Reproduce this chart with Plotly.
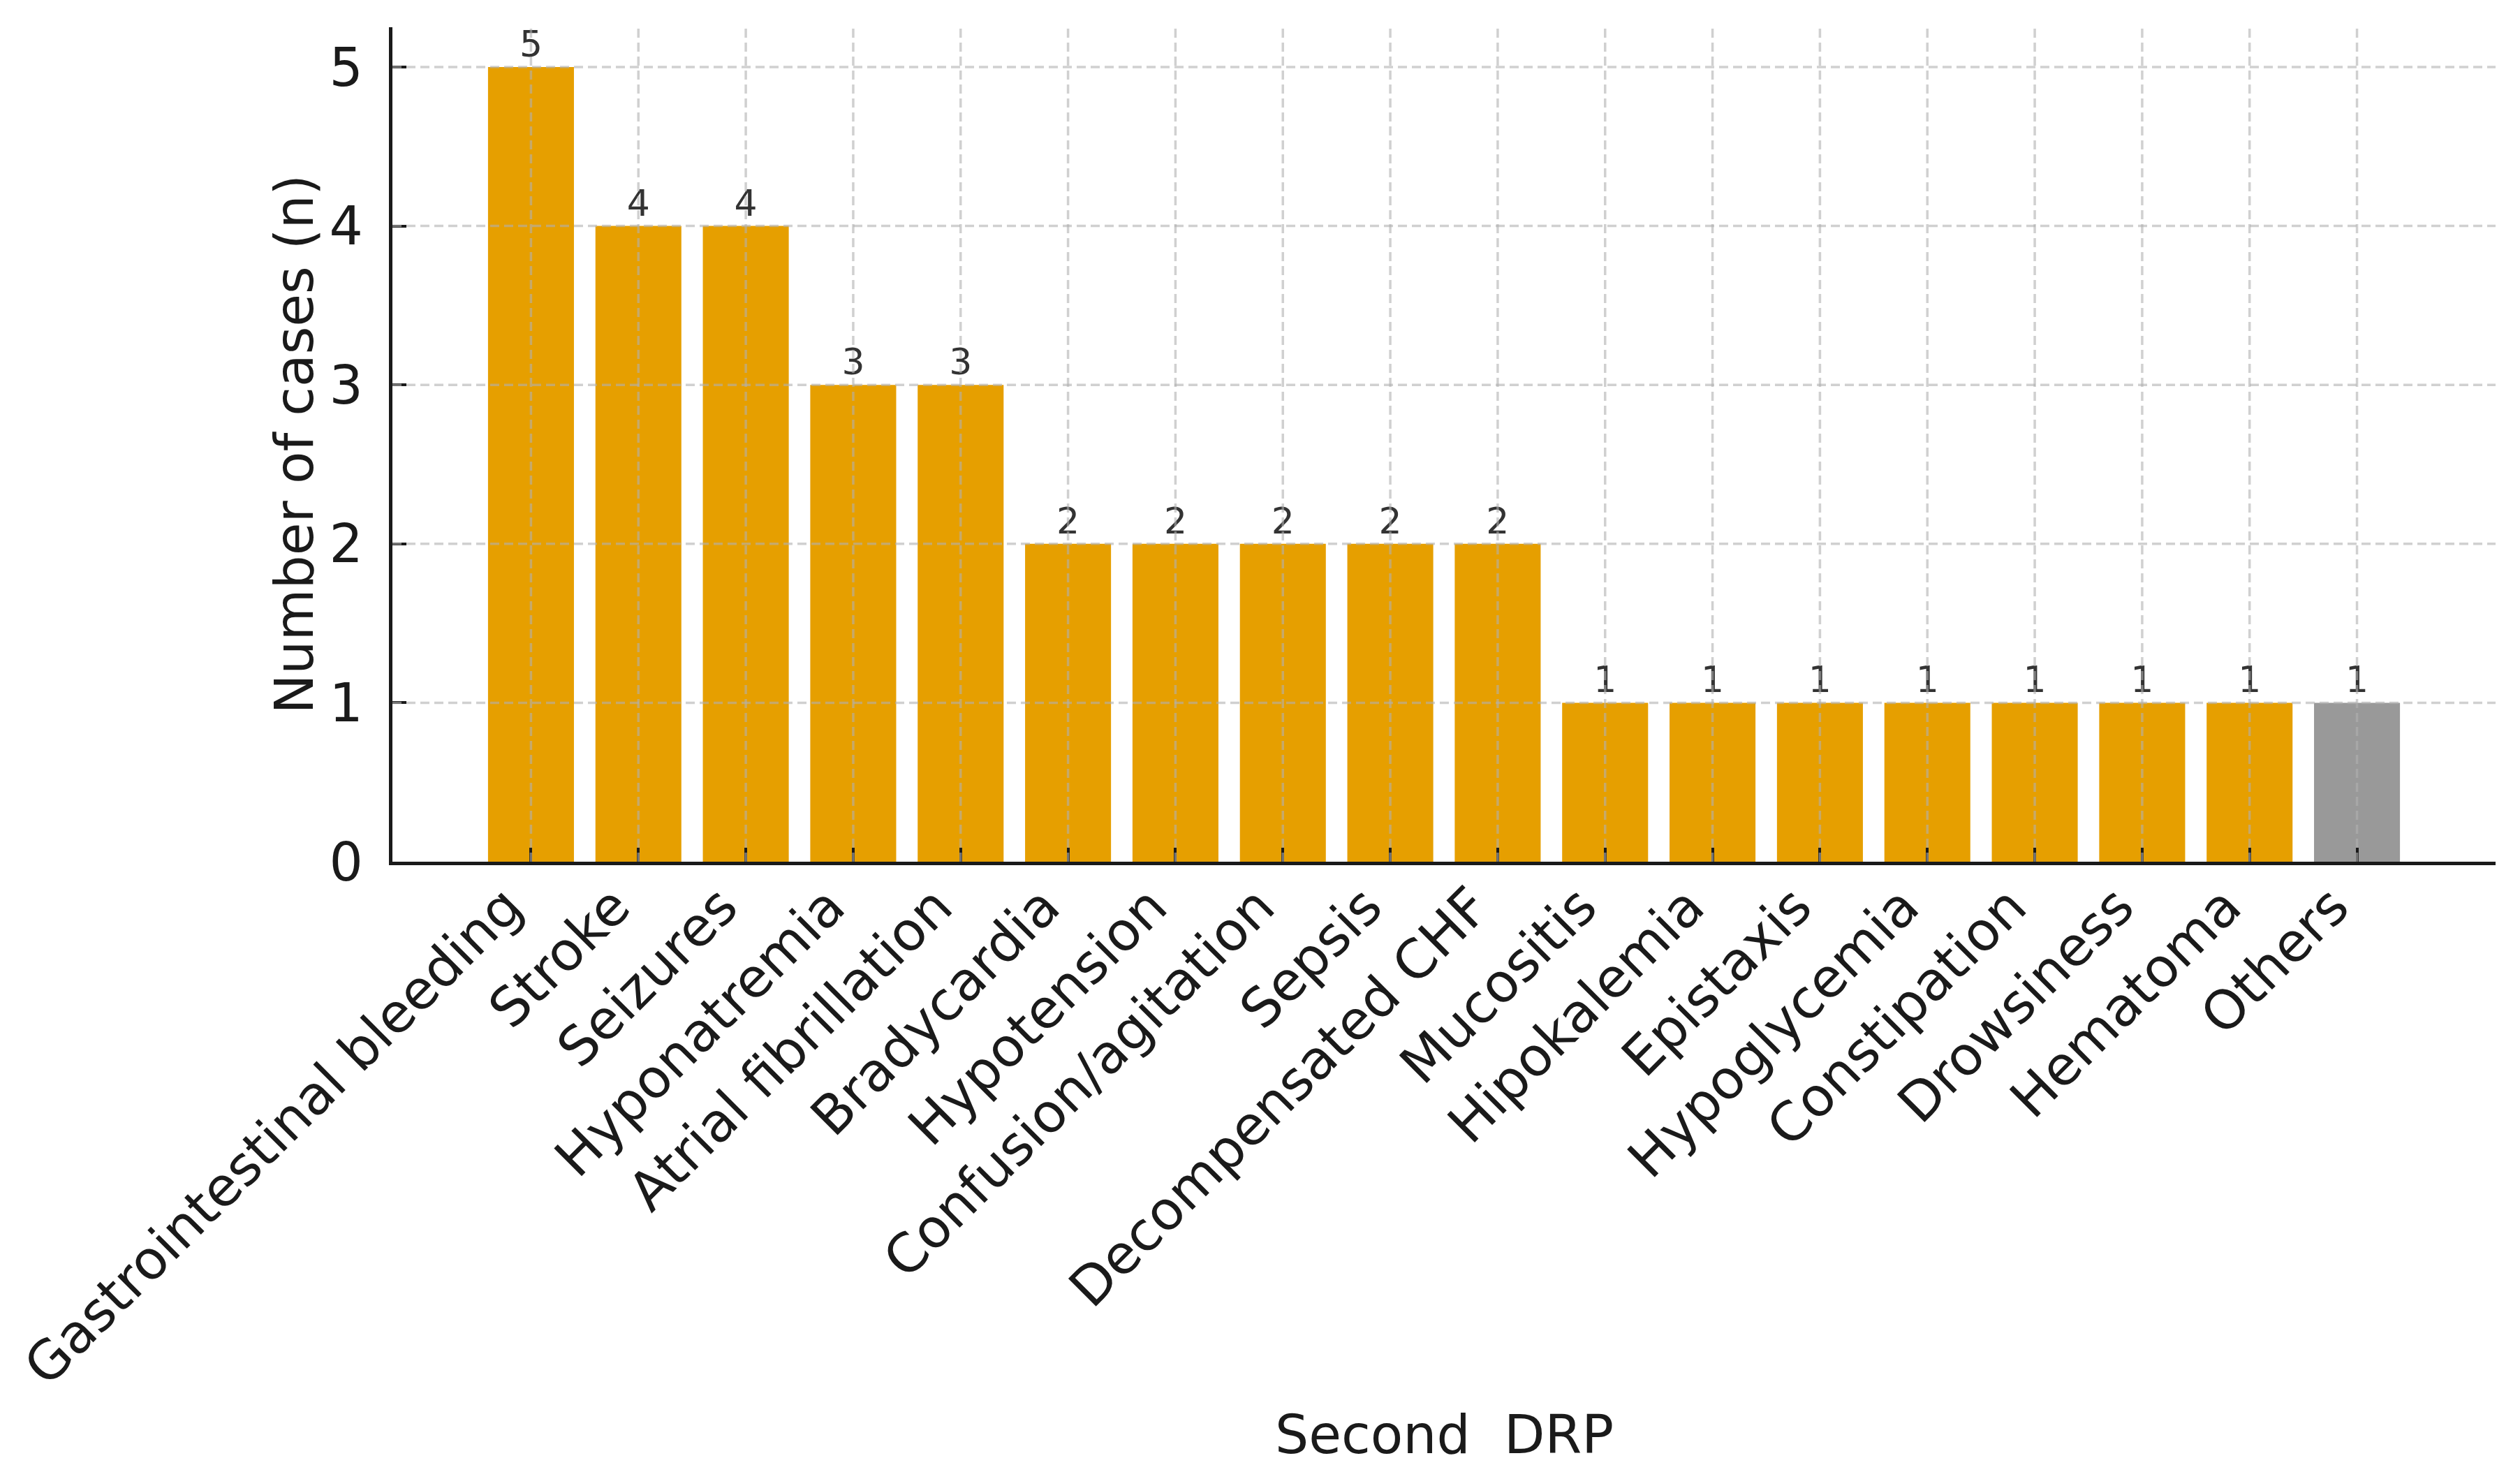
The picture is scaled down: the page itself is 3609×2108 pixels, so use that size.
import plotly.graph_objects as go

categories = ["Gastrointestinal bleeding", "Stroke", "Seizures", "Hyponatremia",
              "Atrial fibrillation", "Bradycardia", "Hypotension", "Confusion/agitation",
              "Sepsis", "Decompensated CHF", "Mucositis", "Hipokalemia", "Epistaxis",
              "Hypoglycemia", "Constipation", "Drowsiness", "Hematoma", "Others"]
cases = [5, 4, 4, 3, 3, 2, 2, 2, 2, 2, 1, 1, 1, 1, 1, 1, 1, 1]
y_ticks = [0, 1, 2, 3, 4, 5]

ORANGE = "#E69F00"
GRAY = "#999999"
colors = [GRAY if c == "Others" else ORANGE for c in categories]

# page body has an 8px margin; figure is sized/offset to compensate
W, H = 3601, 2100
L, R, T, B = 554, 35, 31, 874
FONT = "DejaVu Sans"
TXT = "#1a1a1a"

fig = go.Figure()
fig.add_trace(go.Bar(
    x=categories, y=cases, marker=dict(color=colors, line=dict(width=0)),
    text=[str(v) for v in cases], textposition="outside",
    textfont=dict(family=FONT, size=52, color="#333333"),
    cliponaxis=False, constraintext="none", showlegend=False,
))

grid_color = "rgba(176,176,176,0.6)"
grid_line = dict(color=grid_color, width=3.5, dash="13px,7px")
shapes = []
for v in y_ticks[1:]:
    shapes.append(dict(type="line", xref="x domain", yref="y", x0=0, x1=1, y0=v, y1=v,
                       line=grid_line, layer="above"))
for i, _ in enumerate(categories):
    shapes.append(dict(type="line", xref="x", yref="y domain", x0=i, x1=i, y0=0, y1=1,
                       line=grid_line, layer="above"))

fig.update_layout(
    width=W, height=H, margin=dict(l=L, r=R, t=T, b=B, autoexpand=False),
    paper_bgcolor="white", plot_bgcolor="white", bargap=0.2,
    font=dict(family=FONT, size=76, color=TXT),
    shapes=shapes,
    annotations=[
        dict(text="Second\u00a0\u00a0DRP", xref="paper", yref="paper", x=0.5, y=-0.687,
             xanchor="center", yanchor="middle", showarrow=False,
             font=dict(family=FONT, size=76, color=TXT)),
        dict(text="Number of cases (n)", xref="paper", yref="paper", x=-0.0468, y=0.5,
             xanchor="center", yanchor="middle", textangle=-90, showarrow=False,
             font=dict(family=FONT, size=76, color=TXT)),
    ],
)
fig.update_xaxes(
    range=[-1.29, 18.29], showgrid=False, showline=True, linecolor="#1a1a1a", linewidth=5,
    ticks="inside", ticklen=20, tickwidth=4, tickcolor="#1a1a1a", tickangle=-45,
    tickfont=dict(family=FONT, size=77, color=TXT), ticklabelstandoff=-17,
    ticklabelshift=-35,
    layer="above traces", automargin=False, zeroline=False,
)
fig.update_yaxes(
    range=[0, 5.25], tickvals=y_ticks, showgrid=False, showline=True, linecolor="#1a1a1a",
    linewidth=5, ticks="inside", ticklen=20, tickwidth=4, tickcolor="#1a1a1a",
    tickfont=dict(family=FONT, size=76, color=TXT), ticklabelstandoff=22,
    layer="above traces", automargin=False, zeroline=False,
)

fig.write_html("out.html")
